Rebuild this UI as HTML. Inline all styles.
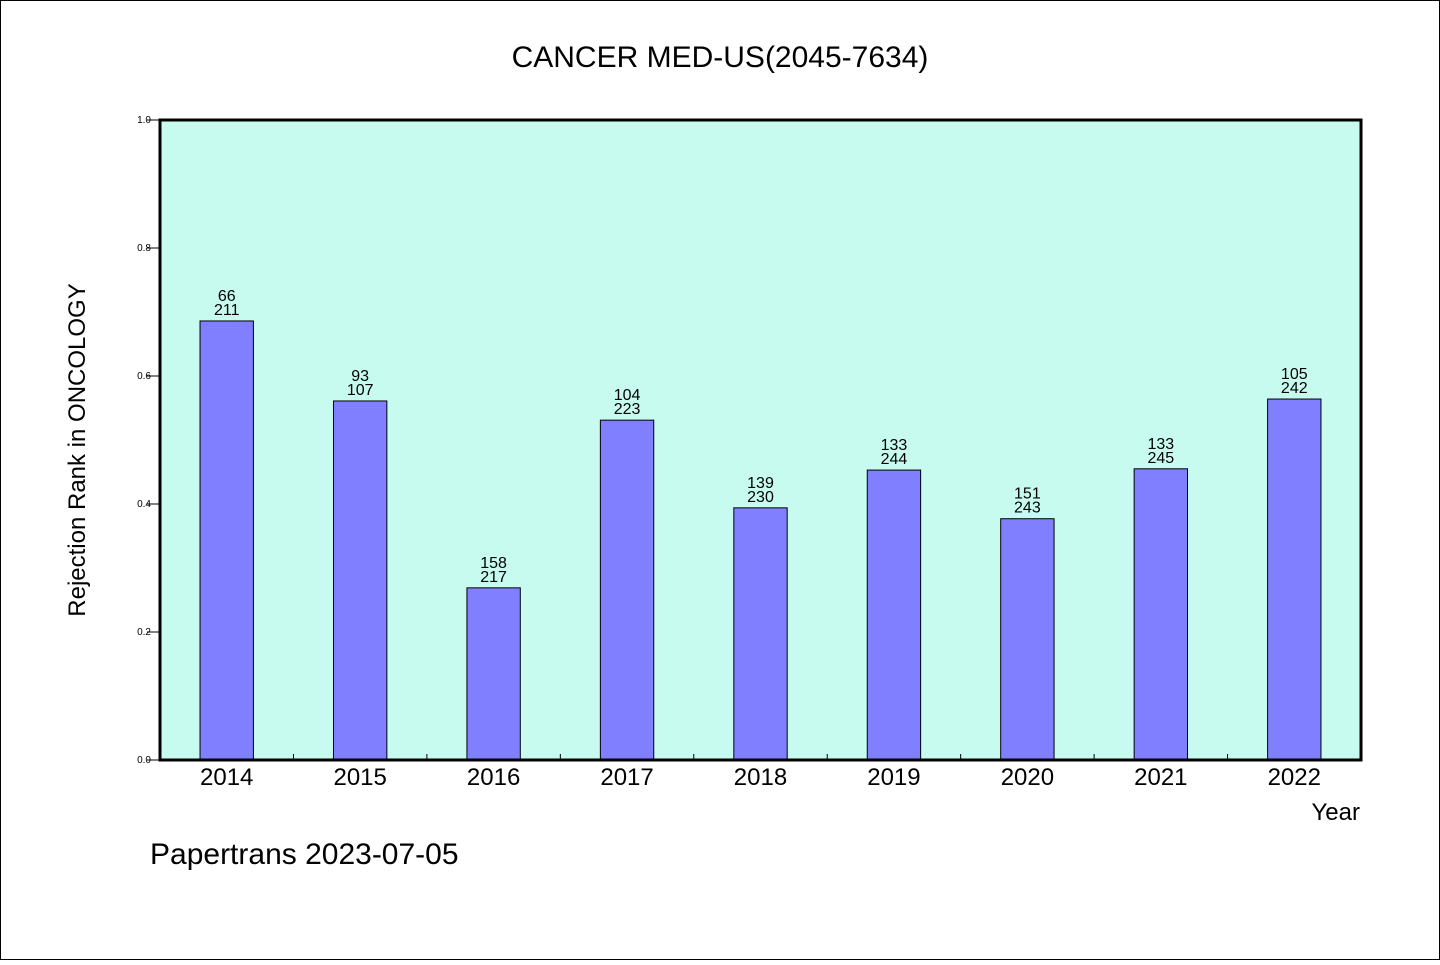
<!DOCTYPE html>
<html><head><meta charset="utf-8"><style>
body{margin:0;background:#fff}
svg text{font-family:"WenQuanYi Zen Hei","Liberation Sans",sans-serif;fill:#000}
</style></head><body>
<svg width="1440" height="960">
<rect x="0.5" y="0.5" width="1439" height="959" fill="#fff" stroke="#000"/>
<text x="720" y="67" font-size="30" text-anchor="middle">CANCER MED-US(2045-7634)</text>
<rect x="160" y="120" width="1201" height="640" fill="#c8fbef"/>
<g id="bars"></g>
<g id="yaxis"></g>
<g id="xaxis"></g>
<rect x="160" y="120" width="1201" height="640" fill="none" stroke="#000" stroke-width="3"/>
<text x="85" y="450" font-size="24" text-anchor="middle" transform="rotate(-90 85 450)">Rejection Rank in ONCOLOGY</text>
<text x="1360" y="820" font-size="24" text-anchor="end">Year</text>
<text x="150" y="864" font-size="30">Papertrans 2023-07-05</text>
</svg>
<script>
const categories=["2014","2015","2016","2017","2018","2019","2020","2021","2022"];
const values=[0.686,0.561,0.269,0.531,0.394,0.453,0.377,0.455,0.564];
const labelTop=["66","93","158","104","139","133","151","133","105"];
const labelBottom=["211","107","217","223","230","244","243","245","242"];
const yTicks=[0,0.2,0.4,0.6,0.8,1.0];
const NS="http://www.w3.org/2000/svg";
const x0=160,x1=1361,y0=760,y1=120;
const band=(x1-x0)/categories.length;
const xc=i=>x0+band*(i+0.5);
const y=v=>y0-(v)*(y0-y1);
function mk(t,a,p){const e=document.createElementNS(NS,t);for(const k in a)e.setAttribute(k,a[k]);p.appendChild(e);return e;}
const bars=document.getElementById('bars'),ya=document.getElementById('yaxis'),xa=document.getElementById('xaxis');
categories.forEach((c,i)=>{
 const w=band*0.4;
 const r=mk('rect',{x:xc(i)-w/2,y:y(values[i]),width:w,height:y0-y(values[i]),fill:'#7f7fff',stroke:'#000','stroke-width':1},bars);
 
 
 const t1=mk('text',{x:xc(i),y:y(values[i])-20,'font-size':16,'text-anchor':'middle'},bars);t1.textContent=labelTop[i];
 
 
 const t2=mk('text',{x:xc(i),y:y(values[i])-6,'font-size':16,'text-anchor':'middle'},bars);t2.textContent=labelBottom[i];
 
 
 const xl=mk('text',{x:xc(i),y:785,'font-size':24,'text-anchor':'middle'},xa);xl.textContent=c;
 
 
 if(i>0){const tk=mk('line',{x1:x0+band*i,x2:x0+band*i,y1:y0,y2:y0-6,stroke:'#000'},xa);
 
 }
});
yTicks.forEach(v=>{
 const tk=mk('line',{x1:147,x2:160,y1:y(v),y2:y(v),stroke:'#000'},ya);
 
 
 const t=mk('text',{x:151,y:y(v)+3,'font-size':10,'text-anchor':'end'},ya);t.textContent=v.toFixed(1);
 
 
});
</script>
</body></html>
